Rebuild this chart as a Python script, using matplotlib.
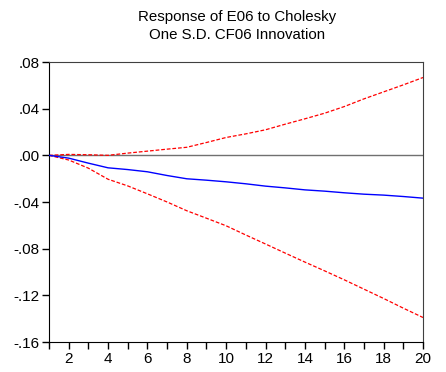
import numpy as np
import matplotlib.pyplot as plt

plt.rcParams['font.family'] = ['Liberation Sans', 'DejaVu Sans']

periods = list(range(1, 21))
response = [0.0, -0.0024, -0.0067, -0.0107, -0.0122, -0.0141, -0.0173, -0.0201,
            -0.0213, -0.0227, -0.0244, -0.0264, -0.0279, -0.0296, -0.0307,
            -0.0321, -0.0333, -0.0341, -0.0353, -0.0367]
upper = [0.0, 0.0008, 0.0005, 0.0, 0.0019, 0.0036, 0.0053, 0.0069, 0.0110,
         0.0153, 0.0184, 0.0219, 0.0267, 0.0313, 0.0361, 0.0418, 0.0484,
         0.0544, 0.0604, 0.0667]
lower = [0.0, -0.0040, -0.0110, -0.0205, -0.0262, -0.0330, -0.0400, -0.0475,
         -0.0539, -0.0604, -0.0683, -0.0760, -0.0838, -0.0915, -0.0990,
         -0.1067, -0.1147, -0.1227, -0.1310, -0.1390]

title = 'Response of E06 to Cholesky\nOne S.D. CF06 Innovation'
yticks = [0.08, 0.04, 0.0, -0.04, -0.08, -0.12, -0.16]
ytick_labels = ['.08', '.04', '.00', '-.04', '-.08', '-.12', '-.16']
xticks = list(range(2, 21, 2))

fig = plt.figure(figsize=(4.46, 3.72), dpi=100)
ax = fig.add_axes([49/446, 1-342/372, (423-49)/446, (342-62)/372])

ax.axhline(0, color='#707070', lw=1.0, zorder=1)
ax.plot(periods, response, color='#0000ff', lw=1.0, zorder=3)
ax.plot(periods, upper, color='#ff0000', lw=0.9, ls=(0, (3, 1.5)), zorder=2)
ax.plot(periods, lower, color='#ff0000', lw=0.9, ls=(0, (3, 1.5)), zorder=2)

ax.set_xlim(1, 20)
ax.set_ylim(-0.16, 0.08)
ax.set_yticks(yticks)
ax.set_yticklabels(ytick_labels)
ax.set_xticks(xticks)
ax.set_xticks(periods, minor=True)
ax.tick_params(axis='both', direction='out', length=5, width=1, labelsize=11,
               colors='black', pad=2)
ax.tick_params(axis='x', which='minor', direction='out', length=5, width=1)
for side in ['left', 'bottom']:
    ax.spines[side].set_color('black')
for side in ['top', 'right']:
    ax.spines[side].set_color('#404040')

fig.text(237/446, 1-10/372, title, ha='center', va='top', fontsize=10.8,
         linespacing=1.35)

fig.savefig('out.png', dpi=100)
